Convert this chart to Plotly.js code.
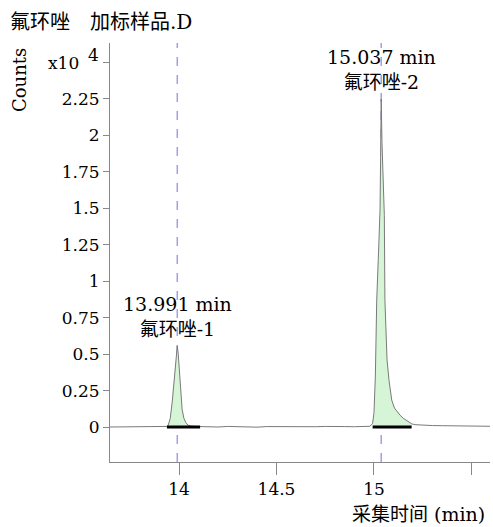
<!DOCTYPE html>
<html>
<head>
<meta charset="utf-8">
<script src="https://cdn.plot.ly/plotly-3.0.1.min.js"></script>
<style>html,body{margin:0;padding:0;background:#fff;}#chart{width:493px;height:527px;}</style>
</head>
<body>
<div id="chart"></div>
<script>
// Acquisition time (min)
const timeMin = [13.646,13.70,13.75,13.80,13.82,13.86,13.90,13.93,13.938,13.944,13.955,13.965,13.972,13.980,13.986,13.991,13.996,14.002,14.009,14.016,14.025,14.035,14.046,14.06,14.08,14.108,
  14.15,14.20,14.25,14.30,14.35,14.40,14.45,14.50,14.55,14.60,14.65,14.70,14.75,14.80,14.85,14.90,14.95,14.98,
  14.993,15.000,15.007,15.014,15.022,15.031,15.034,15.037,15.041,15.047,15.053,15.056,15.062,15.067,15.077,15.091,15.105,15.12,15.133,15.15,15.17,15.193,
  15.21,15.25,15.30,15.35,15.40,15.45,15.50,15.55,15.595];
// Counts (x10^4)
const counts = [0.000,0.001,-0.001,0.003,0.001,0.000,0.001,0.002,0.004,0.010,0.06,0.17,0.28,0.42,0.52,0.555,0.50,0.38,0.22,0.12,0.06,0.03,0.013,0.007,0.004,0.002,
  0.003,0.000,0.004,0.001,0.002,-0.001,0.003,0.002,0.005,0.003,0.004,0.002,0.004,0.001,0.003,0.002,0.003,0.005,
  0.025,0.10,0.35,0.87,1.15,1.49,1.85,2.25,1.95,1.70,1.45,0.87,0.62,0.46,0.32,0.185,0.13,0.10,0.082,0.06,0.04,0.022,
  0.016,0.012,0.010,0.009,0.008,0.007,0.006,0.005,0.005];
// Peaks
const peakNames = ['氟环唑-1','氟环唑-2'];
const peakRT = [13.991, 15.037];
const peakStart = [13.938, 14.993];
const peakEnd = [14.108, 15.193];
// Ticks
const yTickVals = [0,0.25,0.5,0.75,1,1.25,1.5,1.75,2,2.25,2.5];
const yTickText = ['0','0.25','0.5','0.75','1','1.25','1.5','1.75','2','2.25',''];
const xTickVals = [14,14.5,15,15.5];
const xTickText = ['14','14.5','15',''];

const W = 493, H = 527, M = {l:110, r:3, t:43, b:65};
const pw = W - M.l - M.r, ph = H - M.t - M.b;
const px = x => (x - M.l) / pw;
const py = y => (M.t + ph - y) / ph;

const SERIF = 'DejaVu Serif, Noto Sans CJK SC, serif';
const traces = [];
peakStart.forEach((s, i) => {
  const xs = [], ys = [];
  timeMin.forEach((t, k) => { if (t >= s && t <= peakEnd[i]) { xs.push(t); ys.push(counts[k]); } });
  traces.push({x: xs, y: ys, type: 'scatter', mode: 'lines', fill: 'tozeroy',
    fillcolor: '#d6f5d6', line: {width: 0}, hoverinfo: 'skip', showlegend: false});
});
traces.push({x: timeMin, y: counts, type: 'scatter', mode: 'lines',
  line: {color: '#7a7a7a', width: 1}, hoverinfo: 'skip', showlegend: false});
peakStart.forEach((s, i) => {
  traces.push({x: [s, peakEnd[i]], y: [0, 0], type: 'scatter', mode: 'lines',
    line: {color: '#000', width: 3}, hoverinfo: 'skip', showlegend: false});
});

const shapes = peakRT.map(rt => ({type: 'line', xref: 'x', yref: 'paper', x0: rt, x1: rt, y0: 0, y1: 1,
  line: {color: '#a0a0e6', width: 1.5, dash: 'dash'}, layer: 'below'}));

const annotations = peakRT.map((rt, i) => {
  let k = timeMin.indexOf(rt);
  return {x: rt, y: counts[k], xref: 'x', yref: 'y', xanchor: 'center', yanchor: 'bottom', yshift: 4,
    text: rt.toFixed(3) + ' min<br>' + peakNames[i], showarrow: false,
    font: {family: SERIF, size: 19, color: '#000'}};
});
annotations.push(
  {xref: 'paper', yref: 'paper', x: px(63), y: py(63), text: 'x10', showarrow: false,
   xanchor: 'center', yanchor: 'middle', font: {family: SERIF, size: 17, color: '#000'}},
  {xref: 'paper', yref: 'paper', x: px(93), y: py(55), text: '4', showarrow: false,
   xanchor: 'center', yanchor: 'middle', font: {family: SERIF, size: 17, color: '#000'}},
  {xref: 'paper', yref: 'paper', x: px(20), y: py(80), text: 'Counts', showarrow: false, textangle: -90,
   xanchor: 'center', yanchor: 'middle', font: {family: SERIF, size: 18, color: '#000'}},
  {xref: 'paper', yref: 'paper', x: px(487), y: py(514), text: '采集时间 (min)', showarrow: false,
   xanchor: 'right', yanchor: 'middle', font: {family: SERIF, size: 19, color: '#000'}}
);

const layout = {
  width: W, height: H, margin: M, paper_bgcolor: '#fff', plot_bgcolor: '#fff',
  title: {text: '氟环唑\u3000加标样品.D', x: 10 / W, xanchor: 'left', xref: 'container',
    y: 1 - 22 / H, yanchor: 'middle', yref: 'container', font: {family: SERIF, size: 20, color: '#000'}},
  xaxis: {range: [13.646, 15.595], tickvals: xTickVals, ticktext: xTickText, ticks: 'outside', ticklen: 12,
    tickcolor: '#888', showline: true, linecolor: '#888', linewidth: 1, showgrid: false, zeroline: false,
    tickfont: {family: SERIF, size: 17, color: '#000'}},
  yaxis: {range: [-0.24, 2.634], tickvals: yTickVals, ticktext: yTickText, ticks: 'outside', ticklen: 6,
    tickcolor: '#888', showline: true, linecolor: '#888', linewidth: 1, showgrid: false, zeroline: false,
    tickfont: {family: SERIF, size: 17, color: '#000'}},
  shapes: shapes, annotations: annotations, showlegend: false, hovermode: false
};
Plotly.newPlot('chart', traces, layout, {displayModeBar: false, staticPlot: true});
</script>
</body>
</html>
